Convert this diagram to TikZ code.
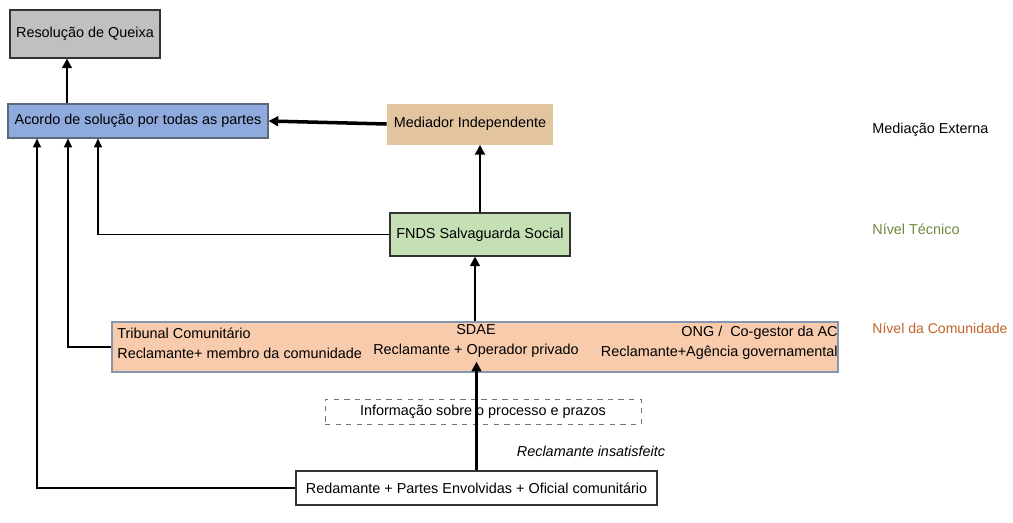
\documentclass[tikz,border=0pt]{standalone}
\usepackage{fontspec}
\setmainfont{Liberation Sans}
\usetikzlibrary{arrows.meta,calc}
\definecolor{cinza}{HTML}{C0C0C0}
\definecolor{azul}{HTML}{8FAADC}
\definecolor{bege}{HTML}{E2C49F}
\definecolor{verde}{HTML}{C5E0B4}
\definecolor{salmao}{HTML}{F8CBAD}
\definecolor{bordaazul}{HTML}{8497B0}
\definecolor{verdetxt}{HTML}{6E8B3D}
\definecolor{laranjatxt}{HTML}{C0622A}
\begin{document}
\begin{tikzpicture}[font=\fontsize{8.2}{11.4}\selectfont,
    caixa/.style={rectangle,draw=black!80,line width=0.6pt,inner sep=1pt},
    seta/.style={line width=1.7pt,-{Triangle[length=5.5pt,width=5.5pt]}},
    setafina/.style={line width=0.9pt,-{Triangle[length=5pt,width=4.5pt]}}]
    \useasboundingbox (0,0) rectangle (20.26,-10.44);
    % caixas de resolucao
    \node[caixa,fill=cinza,minimum width=3cm,minimum height=0.96cm] (node1) at (1.7,-0.68) {Resolução de Queixa};
    \node[caixa,draw=bordaazul!70!black,fill=azul,minimum width=5.2cm,minimum height=0.68cm] (node2) at (2.76,-2.42) {Acordo de solução por todas as partes};
    \node[rectangle,fill=bege,minimum width=3.32cm,minimum height=0.82cm] (node3) at (9.4,-2.48) {Mediador Independente};
    \node[caixa,fill=verde,minimum width=3.6cm,minimum height=0.86cm] (node4) at (9.6,-4.69) {FNDS Salvaguarda Social};
    % nivel da comunidade
    \node[rectangle,draw=bordaazul,line width=0.8pt,fill=salmao,minimum width=14.52cm,minimum height=1cm] (node5) at (9.5,-6.94) {};
    \node[anchor=west,align=left,inner sep=0pt] (node9) at (2.34,-6.86) {Tribunal Comunitário\\Reclamante+ membro da comunidade};
    \node[align=center,inner sep=0pt] (node10) at (9.52,-6.81) {SDAE\\Reclamante + Operador privado};
    \node[anchor=east,align=right,inner sep=0pt] (node11) at (16.76,-6.86) {ONG /\ \ Co-gestor da AC\\Reclamante+Agência governamental};
    % parte de baixo
    \node[rectangle,draw=black!55,dashed,minimum width=6.32cm,minimum height=0.42cm] (node6) at (9.66,-8.23) {Informação sobre o processo e prazos};
    \node[font=\fontsize{8.2}{10}\selectfont\itshape] (node7) at (11.82,-9.02) {Reclamante insatisfeitc};
    \node[caixa,fill=white,minimum width=7.22cm,minimum height=0.68cm] (node8) at (9.53,-9.76) {Redamante + Partes Envolvidas + Oficial comunitário};
    % niveis
    \node[anchor=west,inner sep=0pt] (node12) at (17.44,-2.6) {Mediação Externa};
    \node[anchor=west,inner sep=0pt,text=verdetxt] (node13) at (17.44,-4.58) {Nível Técnico};
    \node[anchor=west,inner sep=0pt,text=laranjatxt,font=\fontsize{8}{10}\selectfont] (node14) at (17.44,-6.56) {Nível da Comunidade};
    % setas
    \coordinate (c1) at (1.34,0);
    \coordinate (c2) at (1.96,0);
    \coordinate (c3) at (1.36,0);
    \coordinate (c4) at (0.74,0);
    \draw[seta] (c1 |- node2.north) -- (c1 |- node1.south);
    \draw[seta,line width=2pt] (node3.west) -- (node2.east);
    \draw[seta] (node4.north) -- (node4.north |- node3.south);
    \draw[seta] (node5.north) -- (node5.north |- node4.south);
    \draw[seta] (node8.north) -- ($(node8.north |- node5.south)+(0,0.22)$);
    \draw[setafina] (node4.west) -| (c2 |- node2.south);
    \draw[setafina] (node5.west) -| (c3 |- node2.south);
    \draw[setafina] (node8.west) -| (c4 |- node2.south);
\end{tikzpicture}
\end{document}
